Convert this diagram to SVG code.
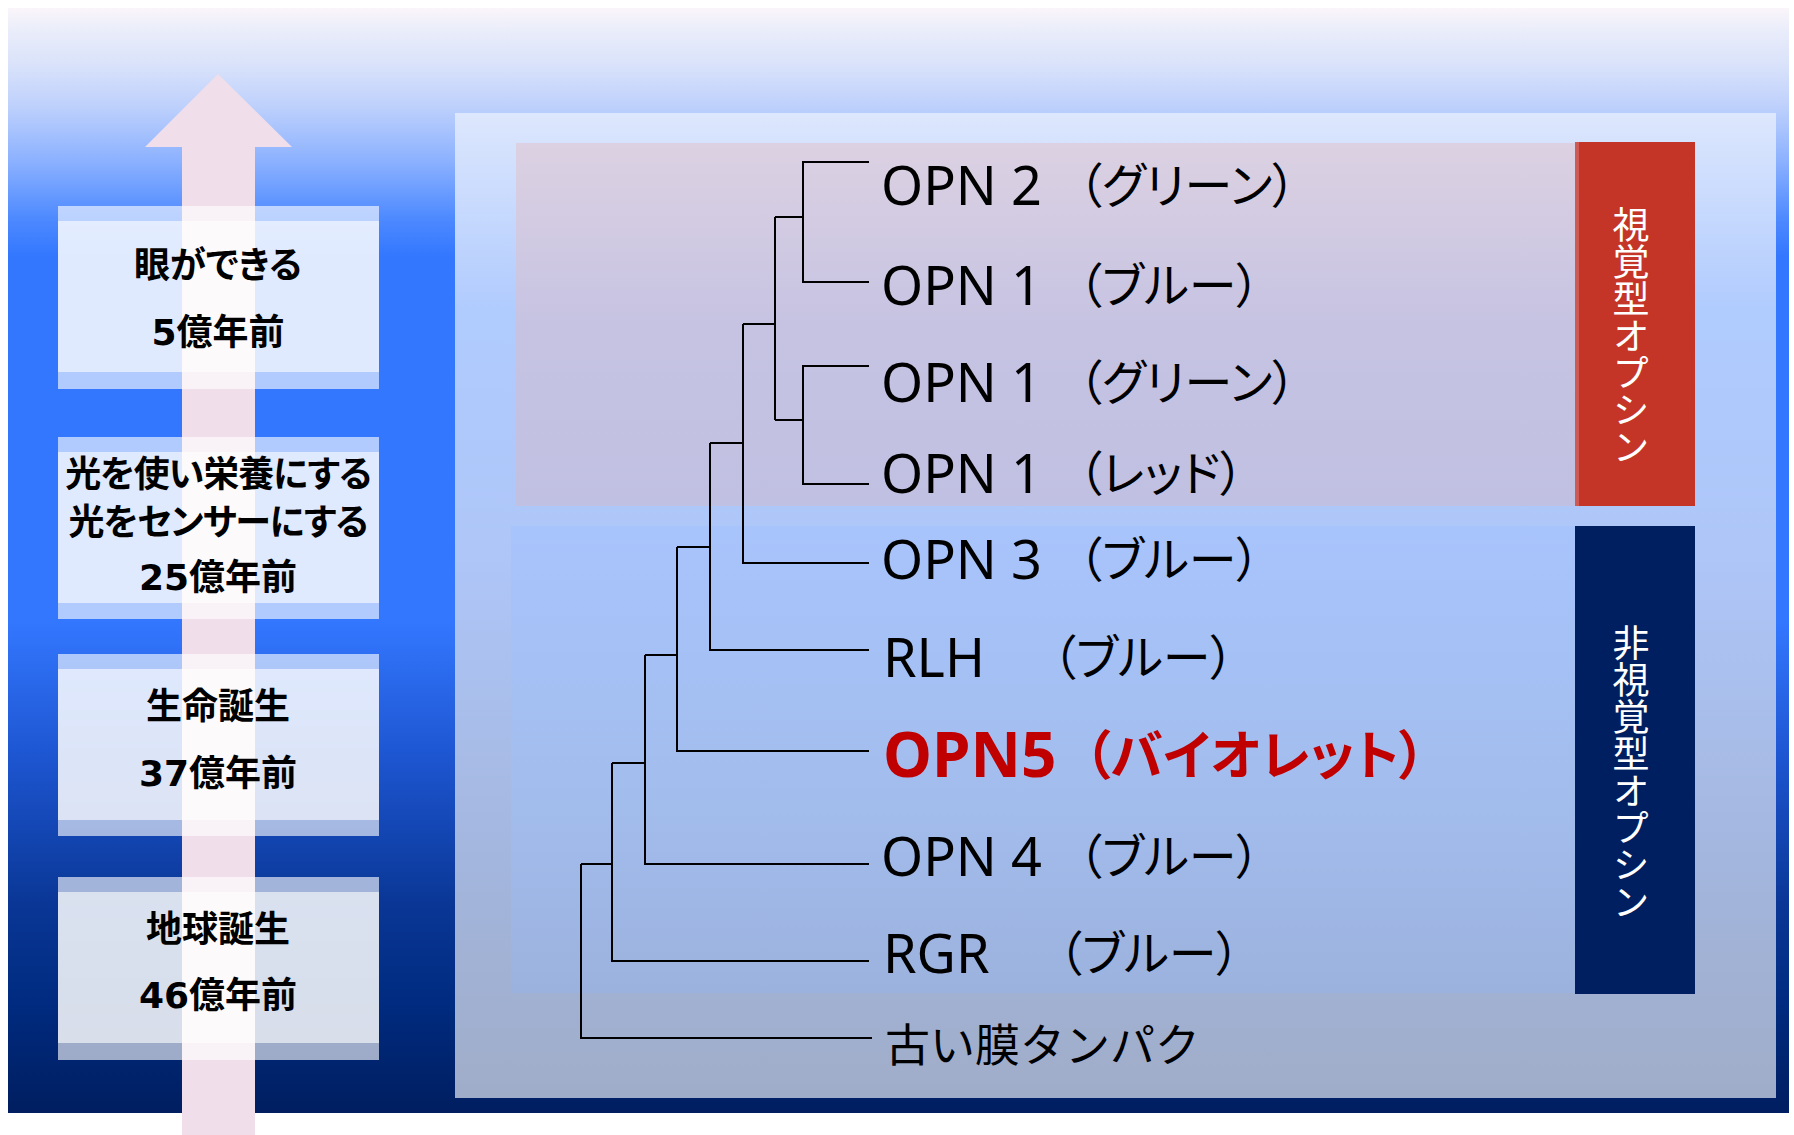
<svg xmlns="http://www.w3.org/2000/svg" width="1794" height="1135" viewBox="0 0 1794 1135">
  <defs>
    <linearGradient id="bg" gradientUnits="userSpaceOnUse" x1="0" y1="8" x2="0" y2="1113">
      <stop offset="0" stop-color="#FAF5FA"/>
      <stop offset="0.02" stop-color="#EAEDFA"/>
      <stop offset="0.05" stop-color="#DAE3FA"/>
      <stop offset="0.09" stop-color="#BDD0FC"/>
      <stop offset="0.14" stop-color="#8AB0FF"/>
      <stop offset="0.19" stop-color="#4E8AFF"/>
      <stop offset="0.225" stop-color="#3377FF"/>
      <stop offset="0.555" stop-color="#3377FF"/>
      <stop offset="0.68" stop-color="#1D55D0"/>
      <stop offset="0.81" stop-color="#0A3796"/>
      <stop offset="0.9" stop-color="#002B80"/>
      <stop offset="1" stop-color="#001E60"/>
    </linearGradient>
    <linearGradient id="panel" gradientUnits="userSpaceOnUse" x1="0" y1="113" x2="0" y2="1098">
      <stop offset="0" stop-color="#DDE7FD"/>
      <stop offset="0.2" stop-color="#B0CBFE"/>
      <stop offset="0.45" stop-color="#AEC6F8"/>
      <stop offset="0.8" stop-color="#A2B4DA"/>
      <stop offset="1" stop-color="#A0ADC9"/>
    </linearGradient>
    <linearGradient id="pink" gradientUnits="userSpaceOnUse" x1="0" y1="143" x2="0" y2="506">
      <stop offset="0" stop-color="#DCD1E2"/>
      <stop offset="0.5" stop-color="#C6C3E2"/>
      <stop offset="1" stop-color="#C0C0E2"/>
    </linearGradient>
    <linearGradient id="blue" gradientUnits="userSpaceOnUse" x1="0" y1="526" x2="0" y2="993">
      <stop offset="0" stop-color="#A8C4FC"/>
      <stop offset="0.6" stop-color="#A2BCEC"/>
      <stop offset="1" stop-color="#9CB2DE"/>
    </linearGradient>
    <style>
      .box-out { fill: #FFFFFF; fill-opacity: 0.62; }
      .box-in { fill: #FFFFFF; fill-opacity: 0.6; }
      .era { font-family: "DejaVu Sans", "Noto Sans CJK JP", sans-serif; font-weight: 700; font-size: 36px; fill: #000000; text-anchor: middle; font-feature-settings: "palt"; }
      .tight { letter-spacing: -1px; }
      .lat { font-family: "Noto Sans", "Noto Sans CJK JP", sans-serif; font-size: 54px; fill: #000000; }
      .jp { font-family: "Noto Sans CJK JP", sans-serif; font-size: 48px; fill: #000000; font-feature-settings: "palt"; }
      .old { font-family: "Noto Sans CJK JP", sans-serif; font-size: 45px; fill: #000000; }
      .hl-lat { font-family: "Noto Sans", "Noto Sans CJK JP", sans-serif; font-size: 62px; font-weight: 700; fill: #C00000; }
      .hl-jp { font-family: "Noto Sans CJK JP", sans-serif; font-size: 53px; font-weight: 700; fill: #C00000; font-feature-settings: "palt"; }
      .vert { font-family: "Noto Sans CJK JP", sans-serif; font-size: 37px; fill: #FFFFFF; writing-mode: vertical-rl; text-anchor: middle; }
      .tree { fill: none; stroke: #000000; stroke-width: 2; }
    </style>
  </defs>

  <!-- background -->
  <rect x="8" y="8" width="1781" height="1105" fill="url(#bg)"/>

  <!-- time arrow -->
  <g id="time-arrow">
    <polygon points="218,74 292,147 255,147 255,1135 182,1135 182,147 145,147" fill="#F0DEEA"/>
  </g>

  <!-- era boxes -->
  <g id="era-eye">
    <rect class="box-out" x="58" y="206" width="321" height="183"/>
    <rect class="box-in" x="58" y="221" width="321" height="151"/>
    <text class="era" x="218" y="278">眼ができる</text>
    <text class="era" x="218" y="345">5億年前</text>
  </g>
  <g id="era-light">
    <rect class="box-out" x="58" y="437" width="321" height="182"/>
    <rect class="box-in" x="58" y="452" width="321" height="151"/>
    <text class="era tight" x="218" y="487">光を使い栄養にする</text>
    <text class="era tight" x="218" y="535">光をセンサーにする</text>
    <text class="era" x="218" y="590">25億年前</text>
  </g>
  <g id="era-life">
    <rect class="box-out" x="58" y="654" width="321" height="182"/>
    <rect class="box-in" x="58" y="669" width="321" height="151"/>
    <text class="era" x="218" y="719">生命誕生</text>
    <text class="era" x="218" y="786">37億年前</text>
  </g>
  <g id="era-earth">
    <rect class="box-out" x="58" y="877" width="321" height="183"/>
    <rect class="box-in" x="58" y="892" width="321" height="151"/>
    <text class="era" x="218" y="942">地球誕生</text>
    <text class="era" x="218" y="1008">46億年前</text>
  </g>

  <!-- tree panel -->
  <g id="panel">
    <rect x="455" y="113" width="1321" height="985" fill="url(#panel)"/>
    <rect x="516" y="143" width="1059" height="363" fill="url(#pink)"/>
    <rect x="511" y="526" width="1064" height="467" fill="url(#blue)"/>
  </g>

  <g id="visual-label">
    <rect x="1575" y="142" width="120" height="364" fill="#C43528"/>
    <rect x="1575" y="142" width="4" height="364" fill="#CF5A53"/>
    <text class="vert" x="1631" y="336">視覚型オプシン</text>
  </g>
  <g id="nonvisual-label">
    <rect x="1575" y="526" width="120" height="468" fill="#001F60"/>
    <text class="vert" x="1631" y="772">非視覚型オプシン</text>
  </g>

  <!-- connectors (tree) -->
  <g id="connectors" class="tree">
    <path d="M869 162 H803 V282 H869 M803 217 H775"/>
    <path d="M869 366 H803 V484 H869 M803 420 H775"/>
    <path d="M775 217 V420 M775 324 H743"/>
    <path d="M743 324 V563 H869 M743 443 H710"/>
    <path d="M710 443 V650 H869 M710 547 H677"/>
    <path d="M677 547 V751 H869 M677 655 H645"/>
    <path d="M645 655 V864 H869 M645 763 H612"/>
    <path d="M612 763 V961 H869 M612 864 H581"/>
    <path d="M581 864 V1038 H872"/>
  </g>

  <!-- leaf labels -->
  <g id="leaf-opn2">
    <text class="lat" x="881" y="205">OPN 2 <tspan class="jp" x="1078" y="203">（グリーン）</tspan></text>
  </g>
  <g id="leaf-opn1-blue">
    <text class="lat" x="881" y="305">OPN 1 <tspan class="jp" x="1078" y="303">（ブルー）</tspan></text>
  </g>
  <g id="leaf-opn1-green">
    <text class="lat" x="881" y="402">OPN 1 <tspan class="jp" x="1078" y="400">（グリーン）</tspan></text>
  </g>
  <g id="leaf-opn1-red">
    <text class="lat" x="881" y="493">OPN 1 <tspan class="jp" x="1078" y="491">（レッド）</tspan></text>
  </g>
  <g id="leaf-opn3">
    <text class="lat" x="881" y="579">OPN 3 <tspan class="jp" x="1078" y="577">（ブルー）</tspan></text>
  </g>
  <g id="leaf-rlh">
    <text class="lat" x="883" y="677">RLH <tspan class="jp" x="1052" y="675">（ブルー）</tspan></text>
  </g>
  <g id="leaf-opn5">
    <text class="hl-lat" x="883" y="777">OPN5<tspan class="hl-jp" x="1084" y="775">（バイオレット）</tspan></text>
  </g>
  <g id="leaf-opn4">
    <text class="lat" x="881" y="876">OPN 4 <tspan class="jp" x="1078" y="874">（ブルー）</tspan></text>
  </g>
  <g id="leaf-rgr">
    <text class="lat" x="883" y="973">RGR <tspan class="jp" x="1058" y="971">（ブルー）</tspan></text>
  </g>
  <g id="leaf-old">
    <text class="old" x="885" y="1062">古い膜タンパク</text>
  </g>
</svg>
